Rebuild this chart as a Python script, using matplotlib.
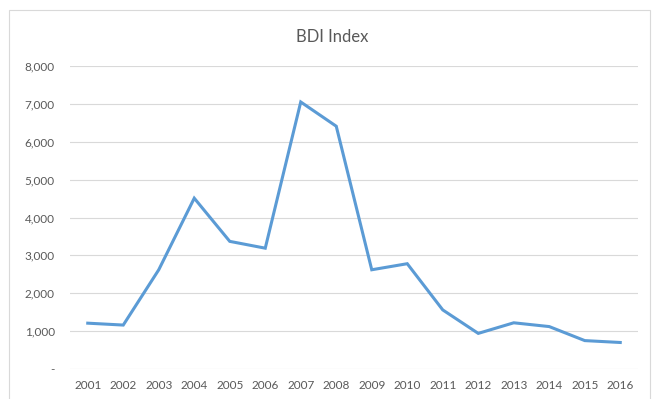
import matplotlib
matplotlib.use('Agg')
import matplotlib.pyplot as plt
from matplotlib.patches import Rectangle
from matplotlib.ticker import FuncFormatter

# BDI annual values
years = ['2001','2002','2003','2004','2005','2006','2007','2008',
         '2009','2010','2011','2012','2013','2014','2015','2016']
bdi = [1210, 1160, 2620, 4510, 3370, 3190, 7050, 6410,
       2620, 2780, 1560, 940, 1220, 1120, 750, 700]
yticks = [0, 1000, 2000, 3000, 4000, 5000, 6000, 7000, 8000]

plt.rcParams['font.family'] = ['Lato', 'DejaVu Sans']

fig = plt.figure(figsize=(6.58, 3.99), dpi=100)
W, H = 658, 399
# chart area border like excel
fig.patches.append(Rectangle((9/W, -0.05), 641/W, 1.05 - 10/H, transform=fig.transFigure,
                             fill=False, edgecolor='#d9d9d9', linewidth=0.8))

ax = fig.add_axes([70/W, 1 - 369/H, (638-70)/W, (369-66)/H])
x = range(len(years))
ax.plot(x, bdi, color='#5b9bd5', linewidth=2.2, solid_joinstyle='miter')

ax.set_xlim(-0.5, len(years) - 0.5)
ax.set_ylim(0, 8000)
ax.set_xticks(list(x))
ax.set_xticklabels(years)
ax.set_yticks(yticks)
ax.yaxis.set_major_formatter(FuncFormatter(lambda v, p: '-' if v == 0 else f'{int(v):,}'))
ax.grid(axis='y', color='#d9d9d9', linewidth=0.8)
ax.set_axisbelow(True)
for s in ax.spines.values():
    s.set_visible(False)
ax.tick_params(axis='both', length=0, colors='#595959', labelsize=8.5)
ax.tick_params(axis='y', pad=11)
ax.tick_params(axis='x', pad=8)

fig.text(332/W, 1 - 37/H, 'BDI Index', ha='center', va='center',
         fontsize=12, color='#595959')

fig.savefig('out.png', dpi=100)
